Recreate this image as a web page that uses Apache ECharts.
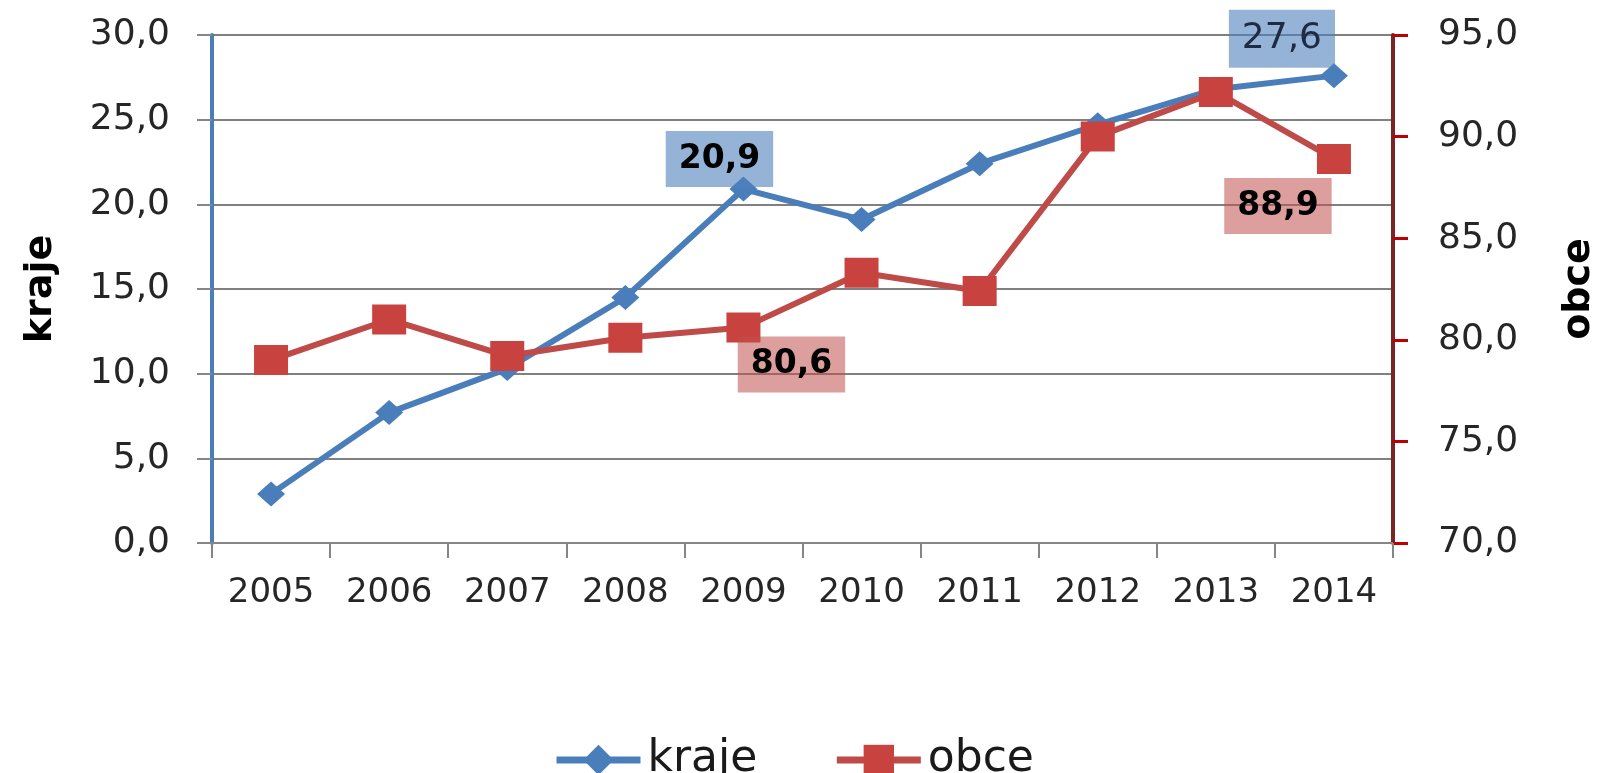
<!DOCTYPE html>
<html>
<head>
<meta charset="utf-8">
<script src="https://cdn.jsdelivr.net/npm/echarts@6/dist/echarts.min.js"></script>
<style>
html,body{margin:0;padding:0;background:#fff;}
#c{width:1599px;height:773px;}
</style>
</head>
<body>
<div id="c"></div>
<script>
var years = ['2005','2006','2007','2008','2009','2010','2011','2012','2013','2014'];
var kraje = [2.9, 7.7, 10.3, 14.5, 20.9, 19.1, 22.4, 24.7, 26.8, 27.6];
var obce = [79.0, 81.0, 79.2, 80.1, 80.6, 83.3, 82.4, 90.0, 92.2, 88.9];
var leftTicks = {min: 0, max: 30, interval: 5};
var rightTicks = {min: 70, max: 95, interval: 5};

function fmt(v){ return Number(v).toFixed(1).replace('.', ','); }

var FONT = 'DejaVu Sans';
var blueBg = 'rgba(79,129,189,0.6)';
var redBg = 'rgba(192,80,77,0.55)';

var kLabels = {
  4: {offset: [-24, -30], fontWeight: 'bold', fontSize: 33, color: '#000', lineHeight: 40},
  9: {offset: [-52, -37], fontWeight: 'normal', fontSize: 36, color: '#1d2b45', lineHeight: 42}
};
var oLabels = {
  4: {offset: [48, 37], fontWeight: 'bold', fontSize: 33, color: '#000', lineHeight: 40},
  9: {offset: [-56, 47], fontWeight: 'bold', fontSize: 33, color: '#000', lineHeight: 40}
};

function buildData(values, labels, bg){
  return values.map(function(v, i){
    var item = {value: v};
    if (labels[i]) {
      var l = labels[i];
      item.label = {
        show: true, position: 'inside', offset: l.offset,
        formatter: function(p){ return fmt(p.value); },
        fontFamily: FONT, fontWeight: l.fontWeight, fontSize: l.fontSize,
        lineHeight: l.lineHeight, color: l.color,
        backgroundColor: bg, padding: [8, 13]
      };
    }
    return item;
  });
}

var chart = echarts.init(document.getElementById('c'), null, {renderer: 'canvas'});
chart.setOption({
  backgroundColor: '#fff',
  animation: false,
  grid: {left: 212, right: 206, top: 35, bottom: 230, containLabel: false, outerBoundsMode: 'none'},
  legend: {
    data: ['kraje', 'obce'],
    left: 548, top: 733,
    itemWidth: 84, itemHeight: 38, itemGap: 76,
    lineStyle: {width: 7},
    textStyle: {fontFamily: FONT, fontSize: 44, color: '#1a1a1a', padding: [0,0,0,2]}
  },
  xAxis: {
    type: 'category', data: years, boundaryGap: true,
    axisLine: {show: true, lineStyle: {color: '#868686', width: 2}},
    axisTick: {show: true, length: 15, lineStyle: {color: '#868686', width: 2}},
    axisLabel: {fontFamily: FONT, fontSize: 34, color: '#262626', margin: 33},
    splitLine: {show: false}
  },
  yAxis: [{
    type: 'value', min: leftTicks.min, max: leftTicks.max, interval: leftTicks.interval,
    position: 'left',
    name: 'kraje', nameLocation: 'middle', nameRotate: 90, nameGap: 152,
    nameTextStyle: {fontFamily: FONT, fontSize: 38, fontWeight: 'bold', color: '#000'},
    axisLine: {show: true, lineStyle: {color: '#4A7EBB', width: 4}},
    axisTick: {show: true, length: 15, lineStyle: {color: '#868686', width: 2}},
    axisLabel: {fontFamily: FONT, fontSize: 36, color: '#262626', margin: 42, formatter: fmt},
    splitLine: {show: true, lineStyle: {color: '#808080', width: 2}}
  }, {
    type: 'value', min: rightTicks.min, max: rightTicks.max, interval: rightTicks.interval,
    position: 'right',
    name: 'obce', nameLocation: 'middle', nameRotate: 90, nameGap: 167,
    nameTextStyle: {fontFamily: FONT, fontSize: 38, fontWeight: 'bold', color: '#000'},
    axisLine: {show: true, lineStyle: {color: '#7B2424', width: 4}},
    axisTick: {show: true, length: 15, lineStyle: {color: '#C00000', width: 3}},
    axisLabel: {fontFamily: FONT, fontSize: 36, color: '#262626', margin: 45, formatter: fmt},
    splitLine: {show: false}
  }],
  series: [{
    name: 'kraje', type: 'line', yAxisIndex: 0,
    data: buildData(kraje, kLabels, blueBg),
    symbol: 'diamond', symbolSize: [28, 25],
    lineStyle: {color: '#4A7EBB', width: 6},
    itemStyle: {color: '#4A7EBB'},
    label: {show: false},
    z: 3
  }, {
    name: 'obce', type: 'line', yAxisIndex: 1,
    data: buildData(obce, oLabels, redBg),
    symbol: 'rect', symbolSize: [34, 30],
    lineStyle: {color: '#BE4B48', width: 6},
    itemStyle: {color: '#C8423F'},
    label: {show: false},
    z: 4
  }]
});
</script>
</body>
</html>
